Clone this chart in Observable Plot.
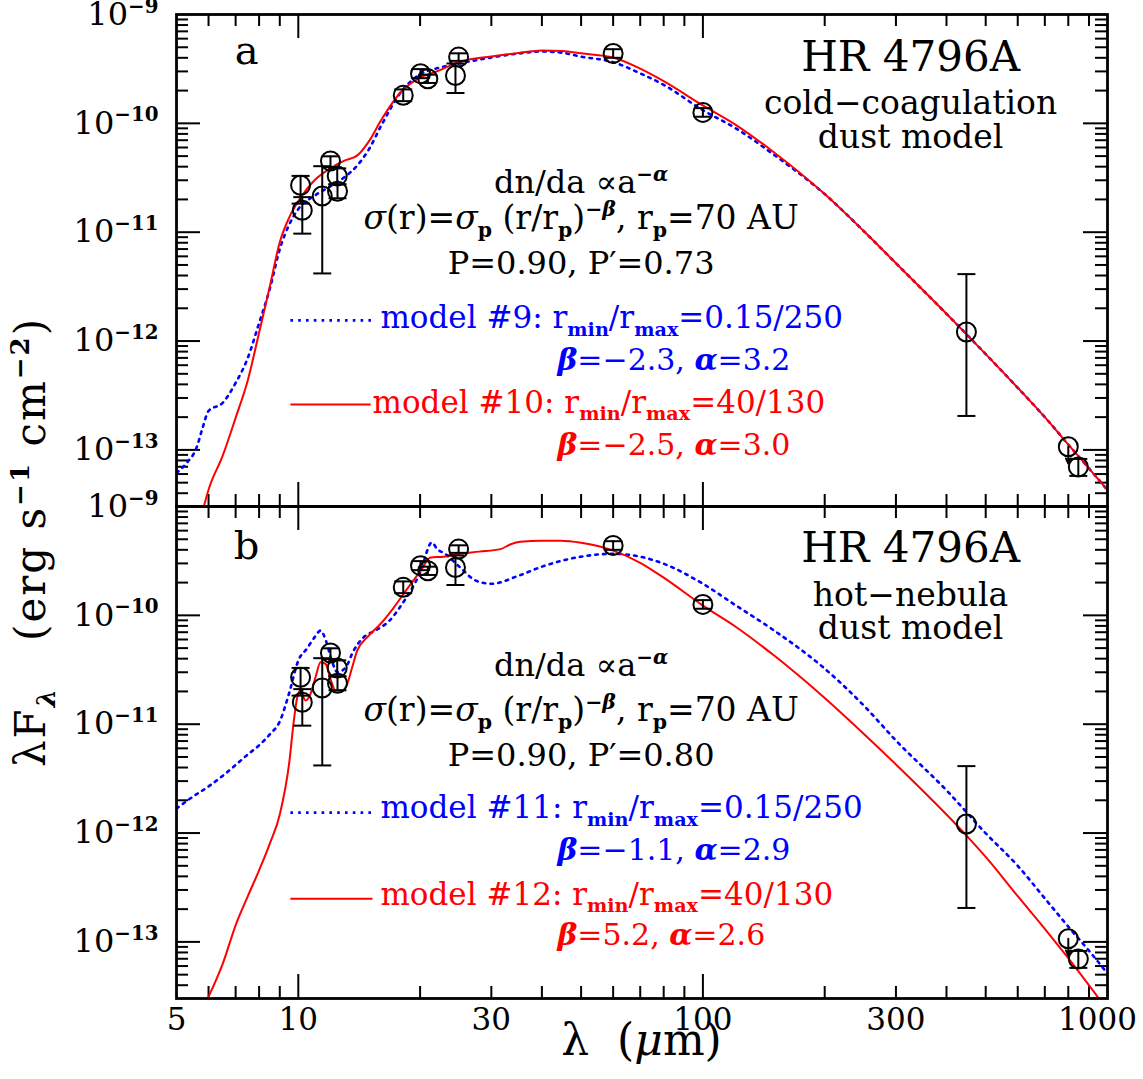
<!DOCTYPE html>
<html><head><meta charset="utf-8">
<script src="https://cdn.jsdelivr.net/npm/d3@7"></script>
<script src="https://cdn.jsdelivr.net/npm/@observablehq/plot@0.6"></script>
<style>
html,body{margin:0;padding:0;background:#fff;}
#chart{width:1143px;height:1079px;}
</style></head>
<body><div id="chart"></div>
<script>
// ---------- observations (same in both panels) ----------
const obsLambda = [10.13, 10.23, 11.46, 12.01, 12.48, 12.5, 18.17, 20.05, 20.9, 24.9, 24.46, 60, 100, 448, 847];
const obsFlux   = [2.70e-11, 1.59e-11, 2.15e-11, 4.51e-11, 3.29e-11, 2.38e-11, 1.81e-10, 2.86e-10, 2.57e-10, 4.06e-10, 2.75e-10, 4.38e-10, 1.26e-10, 1.21e-12, 6.98e-14];
const obsLow    = [1.83e-11, 9.7e-12, 4.18e-12, 3.97e-11, 2.75e-11, 2.05e-11, 1.6e-10, 2.6e-10, 2.35e-10, 3.75e-10, 1.9e-10, 4.0e-10, 1.15e-10, 2.05e-13, 5.77e-14];
const obsHigh   = [3.29e-11, 2.1e-11, 4.04e-11, 4.98e-11, 3.86e-11, 2.75e-11, 2.05e-10, 3.15e-10, 2.8e-10, 4.4e-10, 3.55e-10, 4.8e-10, 1.38e-10, 4.12e-12, 8.26e-14];
// upper limit
const limLambda = [800];
const limFlux   = [1.07e-13];
const limTip    = [7.5e-14];

// ---------- models ----------
// panel a, model #9 (blue dotted)
const m9Lambda = [5, 5.3, 5.6, 5.8, 6, 6.5, 7, 7.5, 8, 8.5, 9, 9.5, 10, 11, 12, 13, 14, 15, 16, 18, 20, 22, 25, 30, 35, 40, 45, 50, 60, 70, 80, 100, 120, 150, 200, 250, 300, 400, 500, 600, 700, 800, 900, 1000];
const m9Flux   = [6.15e-14, 7.6e-14, 1.04e-13, 1.59e-13, 2.28e-13, 2.70e-13, 4.12e-13, 6.98e-13, 1.46e-12, 3.0e-12, 6.98e-12, 1.18e-11, 1.63e-11, 2.18e-11, 2.64e-11, 3.2e-11, 4.12e-11, 5.9e-11, 9.4e-11, 1.97e-10, 2.82e-10, 3.2e-10, 3.55e-10, 4.03e-10, 4.38e-10, 4.58e-10, 4.45e-10, 4.1e-10, 3.65e-10, 2.88e-10, 2.26e-10, 1.32e-10, 9.1e-11, 5.13e-11, 2.24e-11, 1.02e-11, 5.19e-12, 1.78e-12, 7.59e-13, 3.72e-13, 2.0e-13, 1.12e-13, 6.76e-14, 4.27e-14];
// panel a, model #10 (red solid)
const m10Lambda = [5.84, 6, 6.5, 7, 7.5, 8, 8.5, 9, 9.5, 10, 11, 12, 13, 14, 15, 16, 18, 20, 22, 25, 30, 35, 40, 45, 50, 60, 70, 80, 100, 120, 150, 200, 250, 300, 400, 500, 600, 700, 800, 900, 1000];
const m10Flux   = [3.0e-14, 4.3e-14, 8.8e-14, 1.97e-13, 4.35e-13, 1.19e-12, 3.14e-12, 8.1e-12, 1.37e-11, 1.92e-11, 3.03e-11, 3.86e-11, 4.54e-11, 5.08e-11, 6.98e-11, 1.06e-10, 1.97e-10, 2.63e-10, 3.0e-10, 3.67e-10, 4.12e-10, 4.44e-10, 4.68e-10, 4.63e-10, 4.4e-10, 4.03e-10, 3.18e-10, 2.44e-10, 1.46e-10, 9.8e-11, 5.4e-11, 2.24e-11, 1.02e-11, 5.19e-12, 1.78e-12, 7.59e-13, 3.72e-13, 2.0e-13, 1.12e-13, 6.76e-14, 4.27e-14];
// panel b, model #11 (blue dotted)
const m11Lambda = [5, 5.5, 6, 6.5, 7, 7.5, 8, 8.5, 9, 9.5, 10, 10.5, 11, 11.35, 11.7, 12.1, 12.5, 13.1, 13.7, 14.5, 15.5, 16.8, 18, 20, 21.4, 22, 23, 25, 27.5, 30, 35, 40, 50, 60, 70, 80, 100, 120, 150, 200, 250, 300, 400, 500, 600, 700, 800, 900, 1000];
const m11Flux   = [1.68e-12, 2.17e-12, 2.68e-12, 3.35e-12, 4.22e-12, 5.27e-12, 6.4e-12, 8.05e-12, 1.06e-11, 1.95e-11, 3.84e-11, 4.94e-11, 6.38e-11, 7.25e-11, 5.86e-11, 3.84e-11, 3.0e-11, 3.33e-11, 4.74e-11, 6.28e-11, 7.25e-11, 8.93e-11, 1.25e-10, 2.47e-10, 4.68e-10, 4.09e-10, 3.7e-10, 2.80e-10, 2.08e-10, 1.95e-10, 2.31e-10, 2.80e-10, 3.46e-10, 3.68e-10, 3.46e-10, 2.98e-10, 1.95e-10, 1.25e-10, 7.25e-11, 3.24e-11, 1.48e-11, 7.08e-12, 2.47e-12, 9.95e-13, 5.0e-13, 2.51e-13, 1.38e-13, 8.3e-14, 5.13e-14];
// panel b, model #12 (red solid)
const m12Lambda = [6.0, 6.5, 7, 7.5, 8, 8.5, 9, 9.5, 9.75, 9.94, 10.12, 10.42, 10.72, 11.03, 11.35, 11.68, 12.01, 12.36, 12.84, 13.21, 13.59, 13.98, 14.8, 15.96, 17.22, 18.58, 20.06, 21.22, 22.89, 24.7, 28, 31.6, 33.5, 35.4, 40, 44.5, 50, 60, 70, 80, 100, 120, 150, 200, 250, 300, 400, 450, 500, 600, 700, 800, 952];
const m12Flux   = [3.13e-14, 6.24e-14, 1.42e-13, 2.62e-13, 4.55e-13, 7.96e-13, 1.48e-12, 4.46e-12, 1.08e-11, 1.77e-11, 2.04e-11, 1.65e-11, 1.90e-11, 2.70e-11, 3.71e-11, 3.58e-11, 2.61e-11, 2.04e-11, 2.04e-11, 2.35e-11, 3.33e-11, 4.74e-11, 6.28e-11, 8.33e-11, 1.18e-10, 1.75e-10, 2.57e-10, 3.40e-10, 3.46e-10, 3.66e-10, 3.85e-10, 4.06e-10, 4.5e-10, 4.74e-10, 4.84e-10, 4.84e-10, 4.64e-10, 3.93e-10, 3.04e-10, 2.22e-10, 1.23e-10, 7.94e-11, 4.27e-11, 1.74e-11, 8.13e-12, 4.27e-12, 1.48e-12, 9.33e-13, 6.03e-13, 2.63e-13, 1.32e-13, 7.08e-14, 3.02e-14];

// ---------- annotations (anchored in data units) ----------
const annPanel  = ["a","a","a","a","a","a","a","a","a","a","a", "b","b","b","b","b","b","b","b","b","b","b"];
const annLambda = [7.45, 326, 326, 326, 50, 50, 50, 15.96, 43.7, 15.26, 43.7,  7.45, 326, 326, 326, 50, 50, 50, 15.96, 43.7, 15.96, 43.7];
const annFlux   = [4.57e-10, 4.03e-10, 1.52e-10, 7.41e-11, 2.86e-11, 1.34e-11, 5.15e-12, 1.61e-12, 6.62e-13, 2.72e-13, 1.10e-13,
                   4.36e-10, 4.10e-10, 1.52e-10, 7.55e-11, 3.45e-11, 1.33e-11, 5.14e-12, 1.68e-12, 6.89e-13, 2.72e-13, 1.14e-13];
const annText = [
  "a", "HR 4796A", "cold\u2212coagulation", "dust model", "dn/da \u221da^{\u2212\u03b1}",
  "|{\u03c3}(r)=|{\u03c3}_{p} (r/r_{p})^{\u2212\u03b2}, r_{p}=70 AU", "P=0.90, P\u2032=0.73",
  "model #9: r_{min}/r_{max}=0.15/250", "!{\u03b2}=\u22122.3, !{\u03b1}=3.2",
  "model #10: r_{min}/r_{max}=40/130", "!{\u03b2}=\u22122.5, !{\u03b1}=3.0",
  "b", "HR 4796A", "hot\u2212nebula", "dust model", "dn/da \u221da^{\u2212\u03b1}",
  "|{\u03c3}(r)=|{\u03c3}_{p} (r/r_{p})^{\u2212\u03b2}, r_{p}=70 AU", "P=0.90, P\u2032=0.80",
  "model #11: r_{min}/r_{max}=0.15/250", "!{\u03b2}=\u22121.1, !{\u03b1}=2.9",
  "model #12: r_{min}/r_{max}=40/130", "!{\u03b2}=5.2, !{\u03b1}=2.6"];
const annSize   = [40, 42, 33, 33, 32, 33, 32, 31, 30, 31, 30,  40, 42, 33, 33, 32, 33, 32, 31, 30, 31, 30];
const annColor  = ["black","black","black","black","black","black","black","#0000ff","#0000ff","#ff0000","#ff0000",
                   "black","black","black","black","black","black","black","#0000ff","#0000ff","#ff0000","#ff0000"];
const annAnchor = ["middle","middle","middle","middle","middle","middle","middle","start","start","start","start",
                   "middle","middle","middle","middle","middle","middle","middle","start","start","start","start"];

// legend line samples
const legPanel   = ["a", "a", "b", "b"];
const legLambda1 = [9.56, 9.56, 9.56, 9.56];
const legLambda2 = [15.25, 15.1, 15.25, 15.25];
const legFlux    = [1.55e-12, 2.61e-13, 1.54e-12, 2.49e-13];
const legColor   = ["#0000ff", "#ff0000", "#0000ff", "#ff0000"];
const legStyle   = ["dotted", "solid", "dotted", "solid"];

// ---------- ticks ----------
const xLabelTicks = [5, 10, 30, 100, 300, 1000];
const xMajorTicks = [10, 100];
const xMinorTicks = [6, 7, 8, 9, 20, 30, 40, 50, 60, 70, 80, 90, 200, 300, 400, 500, 600, 700, 800, 900];
const yLabelTicks = [1e-9, 1e-10, 1e-11, 1e-12, 1e-13];
const yMajorTicks = [1e-10, 1e-11, 1e-12, 1e-13];
const yMinorTicks = [4e-14,5e-14,6e-14,7e-14,8e-14,9e-14,
  2e-13,3e-13,4e-13,5e-13,6e-13,7e-13,8e-13,9e-13,
  2e-12,3e-12,4e-12,5e-12,6e-12,7e-12,8e-12,9e-12,
  2e-11,3e-11,4e-11,5e-11,6e-11,7e-11,8e-11,9e-11,
  2e-10,3e-10,4e-10,5e-10,6e-10,7e-10,8e-10,9e-10];
const yDomain = [3.02e-14, 1e-9];
const xDomain = [5, 1000];

// ---------- build tables ----------
const obs = obsLambda.map((l, i) => ({lam: l, flux: obsFlux[i], lo: obsLow[i], hi: obsHigh[i]}));
const lims = limLambda.map((l, i) => ({lam: l, flux: limFlux[i], tip: limTip[i]}));
const mk = (L, F, panel, model, style) => L.map((l, i) => ({lam: l, flux: F[i], panel, model, style}));
const models = [
  ...mk(m9Lambda, m9Flux, "a", "9", "dotted"),
  ...mk(m10Lambda, m10Flux, "a", "10", "solid"),
  ...mk(m11Lambda, m11Flux, "b", "11", "dotted"),
  ...mk(m12Lambda, m12Flux, "b", "12", "solid")
];
const ann = annText.map((t, i) => ({panel: annPanel[i], lam: annLambda[i], flux: annFlux[i], text: t, size: annSize[i], color: annColor[i], anchor: annAnchor[i]}));
const leg = legPanel.map((p, i) => ({panel: p, l1: legLambda1[i], l2: legLambda2[i], flux: legFlux[i], color: legColor[i], style: legStyle[i]}));
const xLabels = xLabelTicks.map(v => ({v, panel: "b"}));
const xMax = xDomain[1];

// ---------- layout ----------
const W = 1143, H = 1079;
const mTop = 14, mBottom = 81, mLeft = 176, mRight = 36;
const FH = (H - mTop - mBottom) / 2;
const FW = W - mLeft - mRight;
const FONT = "'DejaVu Serif', serif";
const MAJ = 24, MIN = 12;

const capSymbol = {draw(ctx, size) { const r = Math.sqrt(size / Math.PI); ctx.moveTo(-r, 0); ctx.lineTo(r, 0); }};

const chart = Plot.plot({
  width: W, height: H,
  marginTop: mTop, marginBottom: mBottom, marginLeft: mLeft, marginRight: mRight,
  style: {fontFamily: FONT, fontSize: "32px", color: "black", background: "white", overflow: "visible"},
  x: {type: "log", domain: xDomain, axis: null, label: null},
  y: {type: "log", domain: yDomain, ticks: yLabelTicks, tickFormat: d => "10^{\u2212" + Math.round(-Math.log10(d)) + "}", tickSize: 0, tickPadding: 18, label: null},
  fy: {domain: ["a", "b"], axis: null, padding: 0, label: null},
  color: {type: "identity"},
  marks: [
    // inward ticks on all four sides
    Plot.tickX(xMajorTicks, {x: d => d, insetTop: FH - MAJ, stroke: "black", strokeWidth: 2}),
    Plot.tickX(xMinorTicks, {x: d => d, insetTop: FH - MIN, stroke: "black", strokeWidth: 2}),
    Plot.tickX(xMajorTicks, {x: d => d, insetBottom: FH - MAJ, stroke: "black", strokeWidth: 2}),
    Plot.tickX(xMinorTicks, {x: d => d, insetBottom: FH - MIN, stroke: "black", strokeWidth: 2}),
    Plot.tickY(yMajorTicks, {y: d => d, insetRight: FW - MAJ, stroke: "black", strokeWidth: 2}),
    Plot.tickY(yMinorTicks, {y: d => d, insetRight: FW - MIN, stroke: "black", strokeWidth: 2}),
    Plot.tickY(yMajorTicks, {y: d => d, insetLeft: FW - MAJ, stroke: "black", strokeWidth: 2}),
    Plot.tickY(yMinorTicks, {y: d => d, insetLeft: FW - MIN, stroke: "black", strokeWidth: 2}),
    // x tick labels (bottom panel only); the last one is pulled inside the page edge
    Plot.text(xLabels.filter(d => d.v < xMax), {x: "v", fy: "panel", text: d => String(d.v), frameAnchor: "bottom", lineAnchor: "top", dy: 9, fontSize: 31}),
    Plot.text(xLabels.filter(d => d.v >= xMax), {x: "v", fy: "panel", text: d => String(d.v), frameAnchor: "bottom", lineAnchor: "top", dy: 9, dx: -10, fontSize: 31}),
    // models
    Plot.line(models.filter(d => d.style === "dotted"), {x: "lam", y: "flux", z: "model", fy: "panel", stroke: "#0000ff", strokeWidth: 2.6, strokeDasharray: "2.6,5.2", curve: "monotone-x", clip: true}),
    Plot.line(models.filter(d => d.style === "solid"), {x: "lam", y: "flux", z: "model", fy: "panel", stroke: "#ff0000", strokeWidth: 2, curve: "monotone-x", clip: true}),
    // legend samples
    Plot.link(leg.filter(d => d.style === "dotted"), {x1: "l1", x2: "l2", y1: "flux", y2: "flux", fy: "panel", stroke: "#0000ff", strokeWidth: 2.6, strokeDasharray: "2.6,5.2"}),
    Plot.link(leg.filter(d => d.style === "solid"), {x1: "l1", x2: "l2", y1: "flux", y2: "flux", fy: "panel", stroke: "#ff0000", strokeWidth: 2}),
    // observations
    Plot.ruleX(obs, {x: "lam", y1: "lo", y2: "hi", stroke: "black", strokeWidth: 2}),
    Plot.dot(obs, {x: "lam", y: "lo", symbol: capSymbol, r: 9, stroke: "black", strokeWidth: 2}),
    Plot.dot(obs, {x: "lam", y: "hi", symbol: capSymbol, r: 9, stroke: "black", strokeWidth: 2}),
    Plot.dot(obs, {x: "lam", y: "flux", r: 9.5, stroke: "black", strokeWidth: 2, fill: "none"}),
    Plot.dot(lims, {x: "lam", y: "flux", r: 9.5, stroke: "black", strokeWidth: 2, fill: "none"}),
    Plot.arrow(lims, {x1: "lam", x2: "lam", y1: "flux", y2: "tip", stroke: "black", strokeWidth: 2, headLength: 12, headAngle: 50}),
    // texts
    Plot.text(ann.filter(d => d.anchor === "middle"), {x: "lam", y: "flux", fy: "panel", text: "text", fontSize: d => d.size, fill: d => d.color, textAnchor: "middle"}),
    Plot.text(ann.filter(d => d.anchor === "start"), {x: "lam", y: "flux", fy: "panel", text: "text", fontSize: d => d.size, fill: d => d.color, textAnchor: "start"}),
    // frames
    Plot.frame({stroke: "black", strokeWidth: 2.8})
  ]
});

document.getElementById("chart").appendChild(chart);

// axis titles
const svg = d3.select(chart);
svg.append("text")
  .attr("transform", `translate(45, ${mTop + FH + 36}) rotate(-90)`)
  .attr("text-anchor", "middle").attr("dy", "0.32em")
  .attr("font-size", 42).attr("font-family", FONT).attr("letter-spacing", 2)
  .text("\u03bbF_{\u03bb}   (erg s^{\u22121} cm^{\u22122})");
svg.append("text")
  .attr("x", mLeft + FW / 2).attr("y", H - 24)
  .attr("text-anchor", "middle").attr("dy", "0.32em")
  .attr("font-size", 44).attr("font-family", FONT)
  .text("\u03bb  (|{\u03bc}m)");

// rich text: ^{} superscript, _{} subscript, |{} italic, !{} bold italic
function richify(root) {
  root.querySelectorAll("text").forEach(t => {
    if (t.querySelector("tspan")) return;
    const s = t.textContent;
    if (!/[\^_|!]\{/.test(s)) return;
    const fs = parseFloat(getComputedStyle(t).fontSize);
    const parts = [];
    const re = /([\^_|!])\{([^}]*)\}/g;
    let last = 0, m;
    while ((m = re.exec(s))) {
      if (m.index > last) parts.push({t: s.slice(last, m.index), k: "n"});
      parts.push({t: m[2], k: m[1]});
      last = re.lastIndex;
    }
    if (last < s.length) parts.push({t: s.slice(last), k: "n"});
    t.textContent = "";
    let cur = 0;
    for (const p of parts) {
      const ts = document.createElementNS("http://www.w3.org/2000/svg", "tspan");
      const target = p.k === "^" ? -0.38 * fs : p.k === "_" ? 0.24 * fs : 0;
      ts.setAttribute("dy", target - cur);
      cur = target;
      if (p.k === "^" || p.k === "_") {
        ts.setAttribute("font-size", 0.62 * fs);
        ts.setAttribute("font-weight", "bold");
        if (/[\u03b1-\u03c9]/.test(p.t)) ts.setAttribute("font-style", "italic");
      }
      if (p.k === "|") ts.setAttribute("font-style", "italic");
      if (p.k === "!") { ts.setAttribute("font-style", "italic"); ts.setAttribute("font-weight", "bold"); }
      ts.textContent = p.t;
      t.appendChild(ts);
    }
  });
}
richify(chart);
</script>
</body></html>
